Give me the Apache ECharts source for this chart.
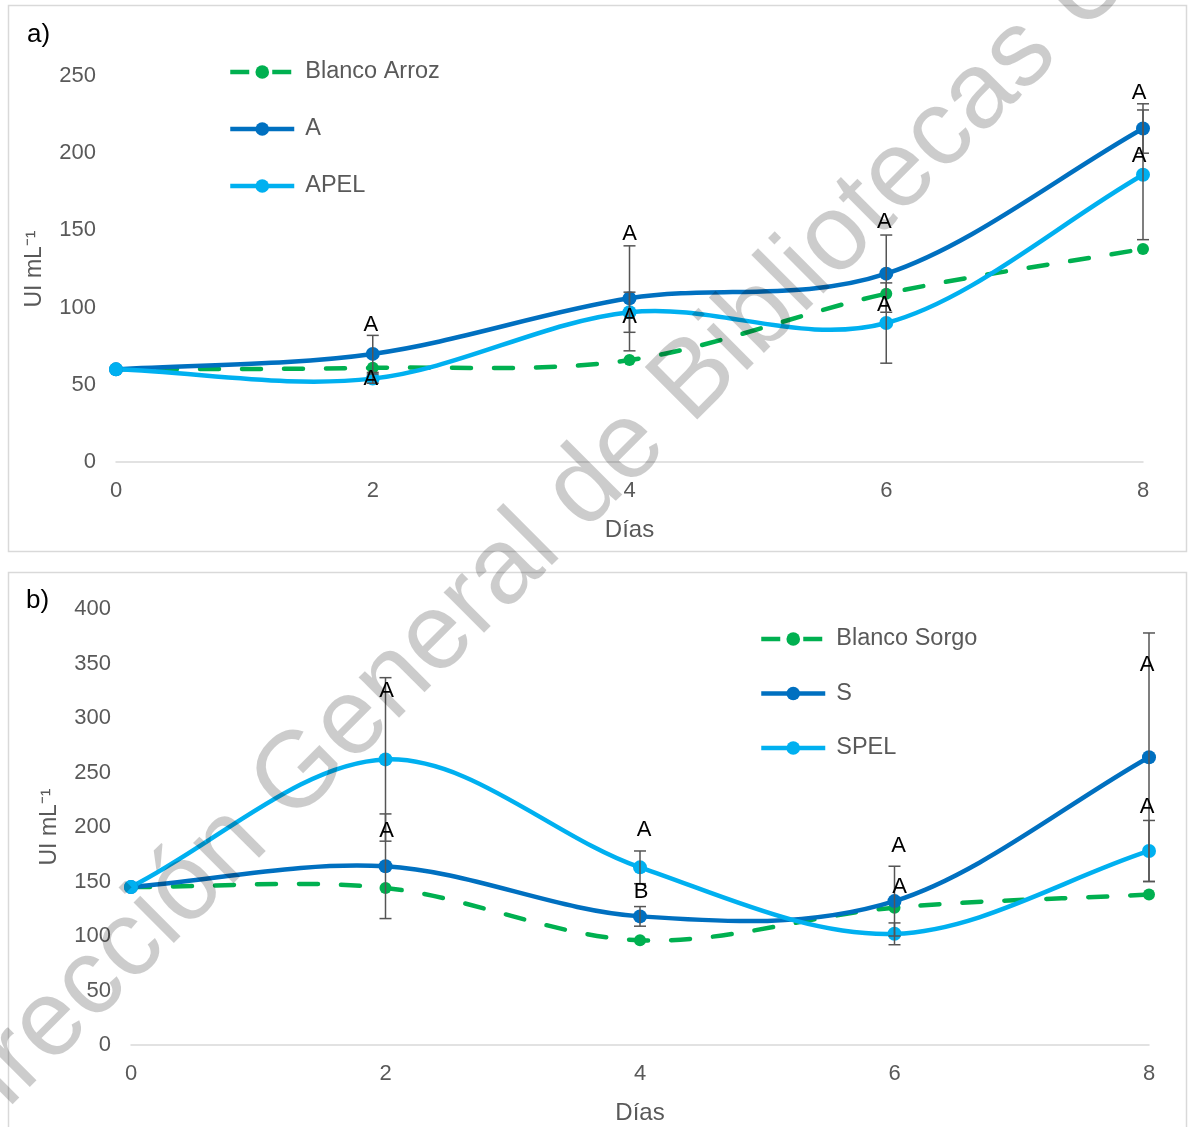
<!DOCTYPE html>
<html>
<head>
<meta charset="utf-8">
<script src="https://cdn.jsdelivr.net/npm/echarts@6/dist/echarts.min.js"></script>
<style>
  html, body { margin: 0; padding: 0; background: #ffffff; }
  #chart { width: 1188px; height: 1127px; }
</style>
</head>
<body>
<div id="chart"></div>
<script>
// Sampling days (x axis)
const days = [0, 2, 4, 6, 8];
const xTicks = [0, 2, 4, 6, 8];

// a) Rice substrate: enzyme activity (UI mL-1)
const blancoArroz = [60, 61, 66, 109, 138];
const arrozA = [60, 70, 106, 122, 216];
const arrozAErr = [0, 12, 34, 25, 16];
const arrozAPEL = [60, 54, 97, 90, 186];
const arrozAPELErr = [0, 3, 13, 26, 42];
const arrozALetters = ['', 'A', 'A', 'A', 'A'];
const arrozAPELLetters = ['', 'A', 'A', 'A', 'A'];

// b) Sorghum substrate: enzyme activity (UI mL-1)
const blancoSorgo = [145, 144, 96, 126, 138];
const sorgoS = [145, 164, 118, 132, 264];
const sorgoSErr = [0, 48, 9, 32, 114];
const sorgoSPEL = [145, 262, 163, 102, 178];
const sorgoSPELErr = [0, 75, 15, 10, 28];
const sorgoSLetters = ['', 'A', 'B', 'A', 'A'];
const sorgoSPELLetters = ['', 'A', 'A', 'A', 'A'];

// Pixel nudges for the significance letters (relative to each mean marker)
const letterShift = {
  arrozA:    [[0, 0], [-2, -29], [0, -64], [-2, -52], [-4, -36]],
  arrozAPEL: [[0, 0], [-2, 0], [0, 5], [-2, -18], [-4, -19]],
  sorgoS:    [[0, 0], [1, -35], [1, -24], [4, -55], [-2, -92]],
  sorgoSPEL: [[0, 0], [1, -68], [4, -37], [5, -47], [-2, -44]]
};

const GREEN = '#00B050', DARK = '#0070C0', LIGHT = '#00B0F0';
const TEXT = '#595959';
const FONT = '"Liberation Sans", Arial, sans-serif';
const DASH = [19, 23];

const pairs = (vals) => days.map((d, i) => [d, vals[i]]);

// Markers (and legend entry) for one series; the curve itself is drawn by curveSeries
function markerSeries(name, vals, color, axis, dashed) {
  return {
    name: name, type: 'line', xAxisIndex: axis, yAxisIndex: axis,
    data: pairs(vals), smooth: false,
    symbol: 'circle', symbolSize: dashed ? 12 : 14,
    lineStyle: { color: color, width: 4.5, type: dashed ? DASH : 'solid', opacity: 0 },
    itemStyle: { color: color },
    emphasis: { disabled: true },
    z: 3
  };
}

// Cardinal (Catmull-Rom) spline through the means, in pixel space from the axes
function curveSeries(vals, color, axis, dashed) {
  return {
    type: 'custom', xAxisIndex: axis, yAxisIndex: axis, silent: true, z: 2,
    data: [[days[0], vals[0]]],
    renderItem: function (params, api) {
      const p = days.map((d, i) => api.coord([d, vals[i]]));
      const n = p.length;
      let d = 'M' + p[0][0] + ' ' + p[0][1];
      for (let i = 0; i < n - 1; i++) {
        const a = p[i], b = p[i + 1];
        let c1, c2;
        if (i === 0) c1 = [a[0] + (b[0] - a[0]) / 3, a[1] + (b[1] - a[1]) / 3];
        else c1 = [a[0] + (b[0] - p[i - 1][0]) / 6, a[1] + (b[1] - p[i - 1][1]) / 6];
        if (i === n - 2) c2 = [b[0] - (b[0] - a[0]) / 3, b[1] - (b[1] - a[1]) / 3];
        else c2 = [b[0] - (p[i + 2][0] - a[0]) / 6, b[1] - (p[i + 2][1] - a[1]) / 6];
        d += ' C' + c1[0] + ' ' + c1[1] + ' ' + c2[0] + ' ' + c2[1] + ' ' + b[0] + ' ' + b[1];
      }
      return {
        type: 'path',
        shape: { pathData: d },
        style: {
          fill: 'none', stroke: color, lineWidth: 4.5,
          lineDash: dashed ? DASH : null, lineCap: 'round', lineJoin: 'round'
        }
      };
    }
  };
}

function errorSeries(vals, errs, axis) {
  return {
    type: 'custom', xAxisIndex: axis, yAxisIndex: axis, silent: true, z: 5,
    data: days.map((d, i) => [d, vals[i], errs[i]]),
    renderItem: function (params, api) {
      const x = api.value(0), m = api.value(1), e = api.value(2);
      if (!e) return null;
      const top = api.coord([x, m + e]);
      const bot = api.coord([x, m - e]);
      const hw = 6;
      const st = { stroke: '#555555', lineWidth: 1.5 };
      return {
        type: 'group',
        children: [
          { type: 'line', shape: { x1: top[0], y1: top[1], x2: bot[0], y2: bot[1] }, style: st },
          { type: 'line', shape: { x1: top[0] - hw, y1: top[1], x2: top[0] + hw, y2: top[1] }, style: st },
          { type: 'line', shape: { x1: bot[0] - hw, y1: bot[1], x2: bot[0] + hw, y2: bot[1] }, style: st }
        ]
      };
    }
  };
}

function letterSeries(vals, letters, shifts, axis) {
  return {
    type: 'custom', xAxisIndex: axis, yAxisIndex: axis, silent: true, z: 6,
    data: pairs(vals),
    renderItem: function (params, api) {
      const i = params.dataIndex;
      if (!letters[i]) return null;
      const p = api.coord([api.value(0), api.value(1)]);
      return {
        type: 'text',
        style: {
          text: letters[i], x: p[0] + shifts[i][0], y: p[1] + shifts[i][1],
          align: 'center', verticalAlign: 'middle',
          font: '22px ' + FONT, fill: '#000000'
        }
      };
    }
  };
}

function xAxisFor(grid, gap) {
  return {
    type: 'value', gridIndex: grid, min: 0, max: 8, interval: 2,
    axisLine: { show: true, lineStyle: { color: '#d9d9d9', width: 1.5 } },
    axisTick: { show: false }, splitLine: { show: false },
    axisLabel: { margin: 18, fontSize: 22, color: TEXT, fontFamily: FONT,
      formatter: (v) => xTicks.indexOf(v) >= 0 ? String(v) : '' },
    name: 'Días', nameLocation: 'middle', nameGap: gap,
    nameTextStyle: { fontSize: 24, color: TEXT, fontFamily: FONT }
  };
}

function yAxisFor(grid, max, gap) {
  return {
    type: 'value', gridIndex: grid, min: 0, max: max, interval: 50,
    axisLine: { show: false }, axisTick: { show: false }, splitLine: { show: false },
    axisLabel: { margin: 20, fontSize: 22, color: TEXT, fontFamily: FONT },
    name: 'UI mL\u207B\u00B9', nameLocation: 'middle', nameGap: gap, nameRotate: 90,
    nameTextStyle: { fontSize: 23, color: TEXT, fontFamily: FONT }
  };
}

function legendFor(names, left, top, gap) {
  return {
    data: names, orient: 'vertical', left: left, top: top,
    itemWidth: 64, itemHeight: 17, itemGap: gap,
    selectedMode: false,
    lineStyle: { width: 4.5, opacity: 1 },
    textStyle: { fontSize: 23.5, color: TEXT, fontFamily: FONT, padding: [0, 0, 0, 6] }
  };
}

const chart = echarts.init(document.getElementById('chart'), null, { renderer: 'canvas' });

chart.setOption({
  animation: false,
  backgroundColor: '#ffffff',
  grid: [
    { left: 116, right: 45, top: 76, height: 386 },
    { left: 131, right: 39, top: 609, height: 436 }
  ],
  xAxis: [xAxisFor(0, 56), xAxisFor(1, 56)],
  yAxis: [yAxisFor(0, 250, 70), yAxisFor(1, 400, 70)],
  legend: [
    legendFor(['Blanco Arroz', 'A', 'APEL'], 223, 55, 33),
    legendFor(['Blanco Sorgo', 'S', 'SPEL'], 754, 622, 30.5)
  ],
  series: [
    curveSeries(blancoArroz, GREEN, 0, true),
    curveSeries(arrozA, DARK, 0, false),
    curveSeries(arrozAPEL, LIGHT, 0, false),
    markerSeries('Blanco Arroz', blancoArroz, GREEN, 0, true),
    markerSeries('A', arrozA, DARK, 0, false),
    markerSeries('APEL', arrozAPEL, LIGHT, 0, false),
    errorSeries(arrozA, arrozAErr, 0),
    errorSeries(arrozAPEL, arrozAPELErr, 0),
    letterSeries(arrozA, arrozALetters, letterShift.arrozA, 0),
    letterSeries(arrozAPEL, arrozAPELLetters, letterShift.arrozAPEL, 0),

    curveSeries(blancoSorgo, GREEN, 1, true),
    curveSeries(sorgoS, DARK, 1, false),
    curveSeries(sorgoSPEL, LIGHT, 1, false),
    markerSeries('Blanco Sorgo', blancoSorgo, GREEN, 1, true),
    markerSeries('S', sorgoS, DARK, 1, false),
    markerSeries('SPEL', sorgoSPEL, LIGHT, 1, false),
    errorSeries(sorgoS, sorgoSErr, 1),
    errorSeries(sorgoSPEL, sorgoSPELErr, 1),
    letterSeries(sorgoS, sorgoSLetters, letterShift.sorgoS, 1),
    letterSeries(sorgoSPEL, sorgoSPELLetters, letterShift.sorgoSPEL, 1)
  ],
  graphic: [
    // panel frames
    { type: 'rect', z: 0, silent: true, shape: { x: 8.5, y: 5.5, width: 1178, height: 546 },
      style: { fill: 'none', stroke: '#d9d9d9', lineWidth: 1.5 } },
    { type: 'rect', z: 0, silent: true, shape: { x: 8.5, y: 572.5, width: 1178, height: 570 },
      style: { fill: 'none', stroke: '#d9d9d9', lineWidth: 1.5 } },
    // panel tags
    { type: 'text', z: 10, silent: true, style: { text: 'a)', x: 27, y: 35, verticalAlign: 'middle',
      font: '26px ' + FONT, fill: '#000000' } },
    { type: 'text', z: 10, silent: true, style: { text: 'b)', x: 26, y: 601, verticalAlign: 'middle',
      font: '26px ' + FONT, fill: '#000000' } },
    // library watermark across the figure
    { type: 'text', z: 100, silent: true, x: -46, y: 1166, rotation: Math.PI / 4,
      style: { text: 'Dirección General de Bibliotecas UAQ', x: 0, y: -32,
        align: 'left', verticalAlign: 'middle',
        font: '108px ' + FONT, fill: 'rgba(0,0,0,0.2)' } }
  ]
});
</script>
</body>
</html>
